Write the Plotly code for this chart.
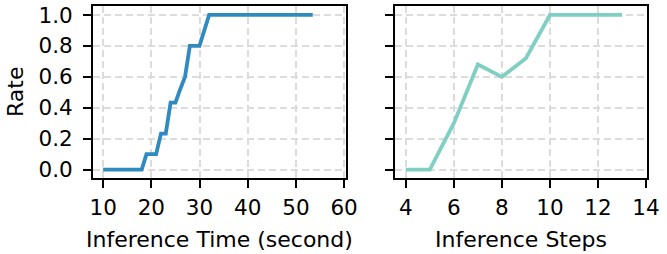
import plotly.graph_objects as go

time_x = [10, 18, 19, 21, 22, 23, 24, 25, 26, 27, 28, 30, 32, 53.5]
time_rate = [0, 0, 0.1, 0.1, 0.233, 0.233, 0.433, 0.433, 0.52, 0.6, 0.8, 0.8, 1.0, 1.0]

steps_x = [4, 5, 6, 7, 8, 9, 10, 13]
steps_rate = [0, 0, 0.3, 0.68, 0.6, 0.72, 1.0, 1.0]

time_ticks = [10, 20, 30, 40, 50, 60]
steps_ticks = [4, 6, 8, 10, 12, 14]
rate_ticks = [0.0, 0.2, 0.4, 0.6, 0.8, 1.0]

W, H = 667, 254
FONT = "DejaVu Sans"

fig = go.Figure()
fig.add_trace(go.Scatter(x=time_x, y=time_rate, mode="lines",
                         line=dict(color="#2f8ac0", width=3.8), xaxis="x", yaxis="y",
                         showlegend=False))
fig.add_trace(go.Scatter(x=steps_x, y=steps_rate, mode="lines",
                         line=dict(color="#7fcfc3", width=3.8), xaxis="x2", yaxis="y2",
                         showlegend=False))

def px_x(p):
    return p / W

def px_y(p):
    return 1 - p / H

common = dict(showline=True, linecolor="black", linewidth=1.8, mirror=True,
              ticks="outside", ticklen=8, tickwidth=1.8, tickcolor="black",
              showgrid=True, gridcolor="#dcdcdc", gridwidth=1.6, griddash="7px,4px",
              zeroline=False, automargin=False,
              tickfont=dict(family=FONT, size=21.5, color="black"))

fig.update_layout(
    width=W, height=H, margin=dict(l=0, r=0, t=0, b=0, autoexpand=False),
    paper_bgcolor="white", plot_bgcolor="white",
    xaxis=dict(domain=[px_x(93), px_x(346)], range=[7.9, 60.4], tickvals=time_ticks,
               anchor="y", ticklabelstandoff=1, **common),
    yaxis=dict(domain=[px_y(178), px_y(6)], range=[-0.054, 1.058], tickvals=rate_ticks,
               tickformat=".1f", anchor="x", ticklabelstandoff=6, **common),
    xaxis2=dict(domain=[px_x(395), px_x(647)], range=[3.55, 14.04], tickvals=steps_ticks,
                anchor="y2", ticklabelstandoff=1, **common),
    yaxis2=dict(domain=[px_y(178), px_y(6)], range=[-0.054, 1.058], tickvals=rate_ticks,
                showticklabels=False, anchor="x2", **common),
)

fig.add_annotation(text="Inference Time (second)", x=px_x(219.5), y=0, xref="paper",
                   yref="paper", showarrow=False, xanchor="center", yanchor="bottom",
                   font=dict(family=FONT, size=22, color="black"))
fig.add_annotation(text="Inference Steps", x=px_x(521), y=0, xref="paper",
                   yref="paper", showarrow=False, xanchor="center", yanchor="bottom",
                   font=dict(family=FONT, size=22, color="black"))
fig.add_annotation(text="Rate", x=px_x(15), y=px_y(92), xref="paper", yref="paper",
                   showarrow=False, textangle=-90, xanchor="center", yanchor="middle",
                   font=dict(family=FONT, size=22, color="black"))

fig.write_html("out.html", config={"displayModeBar": False},
               post_script="document.body.style.margin='0';document.body.style.overflow='hidden';")
